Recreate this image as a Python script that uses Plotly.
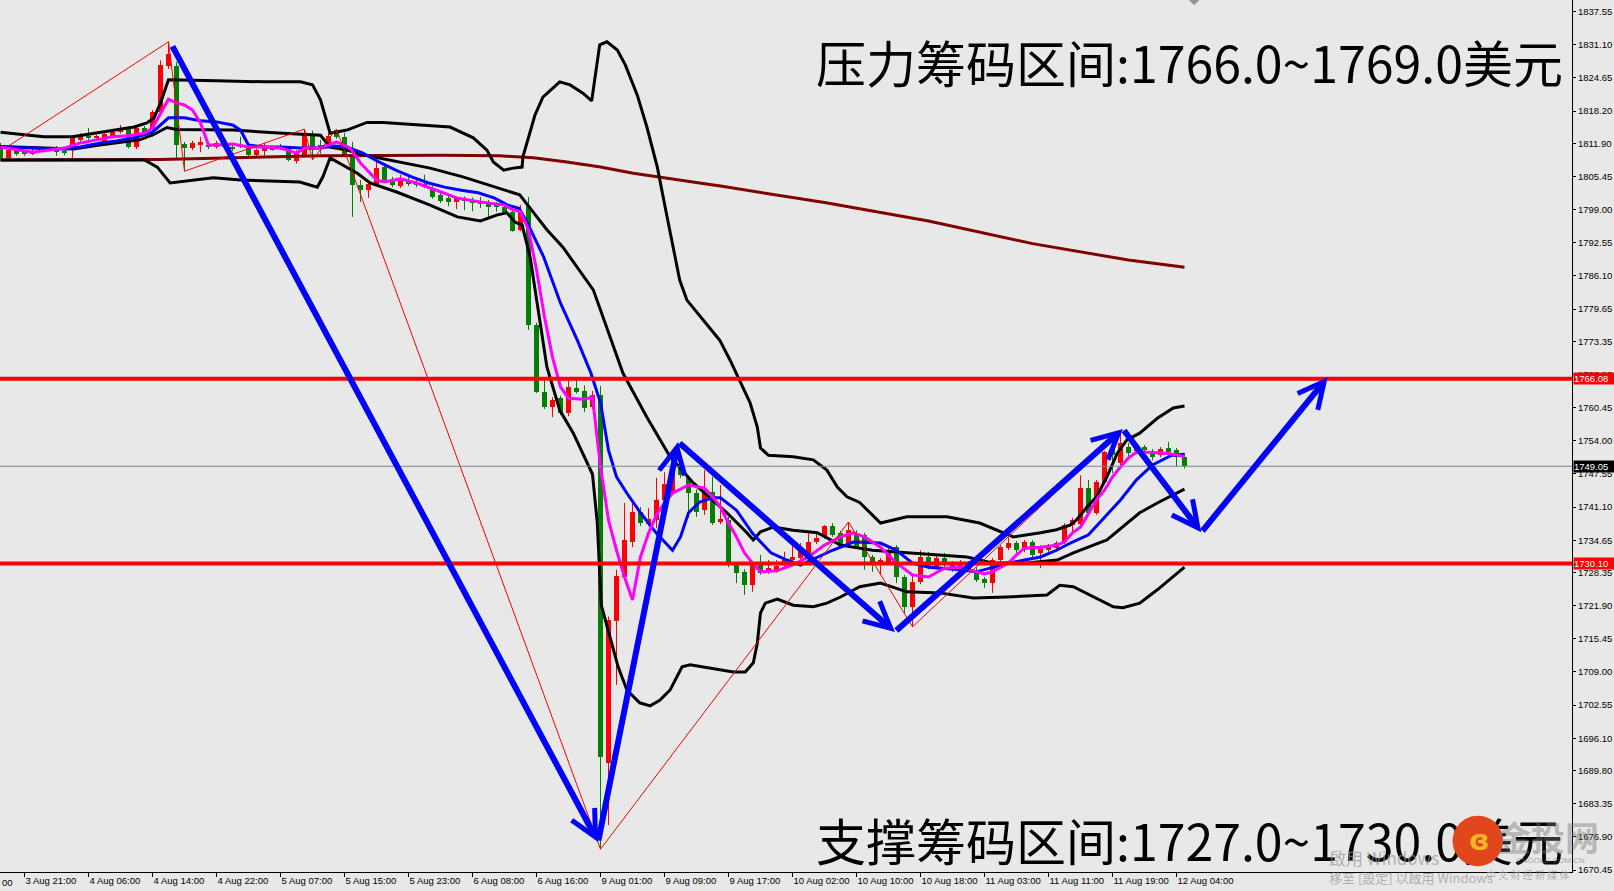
import plotly.graph_objects as go

# ---------------- candle data (H1 XAUUSD) ----------------
opens = [1811.6,1809.1,1810.4,1810.1,1809.8,1810.5,1810.8,1811.0,1810.5,1811.0,
         1812.6,1813.4,1813.0,1812.2,1813.1,1814.1,1814.7,1811.2,1814.9,1814.5,
         1818.0,1827.0,1827.0,1811.8,1811.0,1811.6,1811.6,1811.2,1811.6,1811.2,
         1811.6,1811.2,1809.7,1810.4,1811.0,1811.4,1811.0,1808.5,1809.7,1813.7,
         1811.6,1812.0,1814.5,1813.2,1809.3,1803.8,1802.8,1804.0,1807.3,1805.0,
         1803.6,1804.8,1804.2,1804.0,1803.2,1801.9,1801.3,1800.5,1801.2,1800.9,
         1800.5,1800.3,1799.9,1799.5,1798.6,1795.1,1799.7,1776.6,1763.5,1760.6,
         1762.3,1759.4,1764.3,1763.7,1760.6,1762.9,1691.3,1718.9,1727.5,1734.3,
         1740.2,1737.8,1738.6,1742.5,1744.0,1748.5,1746.8,1743.8,1740.5,1744.0,
         1738.2,1738.6,1729.8,1728.5,1725.9,1729.8,1728.5,1728.7,1729.8,1730.8,
         1731.2,1731.4,1734.3,1735.3,1737.4,1736.1,1734.1,1735.7,1735.7,1731.4,
         1729.8,1730.2,1733.3,1727.5,1721.7,1726.5,1731.4,1729.4,1731.2,1730.2,
         1729.2,1730.2,1728.5,1727.1,1726.3,1730.8,1733.1,1734.1,1732.7,1734.3,
         1732.2,1732.7,1733.1,1734.3,1737.6,1737.8,1744.8,1740.0,1746.0,1752.6,
         1749.7,1752.8,1752.0,1752.8,1751.6,1751.2,1752.6,1752.2,1750.9]
highs = [1812.0,1811.6,1810.8,1810.6,1811.0,1810.9,1811.2,1811.4,1810.9,1813.4,
         1813.9,1814.9,1813.6,1814.2,1814.4,1815.5,1815.0,1815.3,1815.3,1818.4,
         1828.1,1831.7,1827.8,1812.2,1812.4,1813.2,1812.2,1812.4,1812.0,1812.0,
         1813.2,1811.6,1810.9,1812.0,1811.4,1811.8,1811.4,1810.6,1814.7,1814.4,
         1812.6,1813.9,1814.7,1814.0,1812.2,1804.8,1804.8,1808.3,1807.6,1805.4,
         1805.8,1805.4,1804.8,1805.8,1803.6,1802.3,1801.8,1801.6,1801.6,1801.4,
         1801.5,1800.9,1800.5,1800.0,1799.1,1799.9,1801.5,1777.0,1766.2,1762.5,
         1762.8,1765.8,1766.2,1764.8,1763.7,1764.7,1719.8,1728.9,1741.9,1741.9,
         1741.1,1740.9,1746.8,1747.9,1749.5,1750.3,1747.3,1744.6,1748.3,1747.0,
         1745.4,1739.2,1730.2,1729.0,1730.6,1731.8,1730.8,1730.8,1732.4,1733.7,
         1734.1,1736.0,1736.0,1737.6,1738.0,1736.5,1738.2,1736.6,1736.1,1731.8,
         1731.2,1733.7,1733.7,1727.9,1727.9,1732.7,1732.4,1731.8,1732.2,1730.6,
         1730.8,1730.6,1729.4,1727.5,1731.2,1733.7,1735.2,1734.5,1734.7,1734.7,
         1733.7,1733.9,1734.5,1738.0,1739.0,1747.3,1746.4,1746.4,1752.0,1753.0,
         1755.8,1753.6,1752.8,1753.2,1752.4,1752.8,1753.8,1752.6,1751.6]
lows = [1808.9,1809.0,1809.5,1809.5,1809.6,1810.2,1810.4,1809.5,1809.6,1809.1,
        1812.3,1812.6,1812.6,1811.6,1812.9,1813.8,1810.9,1810.8,1813.5,1813.2,
        1817.6,1826.4,1809.1,1806.5,1810.6,1810.2,1810.8,1810.9,1811.0,1810.4,
        1811.0,1809.3,1809.4,1809.3,1810.5,1810.6,1808.4,1808.0,1809.4,1808.7,
        1809.9,1811.6,1812.8,1809.3,1797.6,1800.5,1801.3,1803.6,1804.4,1803.4,
        1803.2,1803.6,1803.4,1803.2,1801.1,1800.3,1799.7,1799.1,1798.9,1798.7,
        1799.3,1797.6,1798.6,1798.2,1794.7,1794.8,1775.6,1763.3,1760.2,1758.6,
        1759.0,1758.8,1763.2,1759.6,1760.2,1674.5,1679.2,1706.5,1727.2,1733.3,
        1737.4,1737.4,1737.0,1742.0,1743.5,1746.8,1739.0,1739.2,1739.6,1737.6,
        1737.8,1729.4,1726.3,1724.0,1724.6,1727.9,1728.1,1728.3,1729.4,1730.4,
        1730.9,1731.0,1733.9,1734.9,1735.3,1733.1,1733.7,1733.0,1728.9,1728.5,
        1727.9,1729.8,1726.3,1720.5,1717.8,1726.1,1729.0,1729.0,1729.4,1728.5,
        1728.8,1728.5,1726.5,1725.4,1724.4,1730.4,1732.7,1732.2,1732.3,1730.8,
        1729.2,1732.3,1732.7,1733.9,1735.7,1737.3,1739.6,1739.6,1745.6,1747.7,
        1749.3,1751.0,1751.4,1751.8,1750.2,1750.8,1751.4,1748.9,1748.6]
closes = [1809.1,1810.6,1809.8,1809.9,1810.4,1810.7,1810.6,1810.3,1810.0,1813.0,
          1813.4,1812.9,1813.3,1813.7,1814.1,1814.7,1811.2,1814.9,1813.9,1818.0,
          1827.2,1829.3,1811.6,1811.0,1812.0,1812.2,1811.2,1812.0,1811.3,1811.0,
          1811.2,1809.7,1810.6,1811.0,1810.8,1810.8,1808.7,1810.2,1813.5,1810.6,
          1810.8,1813.4,1813.2,1809.7,1803.8,1802.8,1804.0,1807.1,1804.8,1803.8,
          1805.0,1804.0,1803.9,1803.4,1801.5,1800.7,1800.5,1801.3,1800.7,1800.3,
          1800.1,1799.5,1799.5,1798.6,1794.9,1798.4,1776.6,1763.5,1760.6,1762.0,
          1759.4,1764.5,1763.5,1760.4,1762.9,1692.5,1719.1,1727.7,1734.7,1740.2,
          1738.0,1738.8,1742.5,1745.6,1748.5,1747.3,1743.8,1740.2,1743.8,1738.0,
          1738.8,1729.8,1728.3,1725.9,1730.0,1728.3,1729.2,1729.6,1730.8,1731.4,
          1732.7,1734.3,1735.1,1737.4,1735.7,1733.5,1736.6,1733.3,1731.4,1729.8,
          1730.8,1732.4,1727.5,1721.7,1726.5,1731.4,1729.4,1731.2,1729.8,1729.4,
          1730.2,1728.9,1726.9,1726.3,1730.8,1733.3,1734.1,1732.7,1734.3,1731.8,
          1733.3,1733.3,1734.1,1737.6,1738.6,1744.8,1740.0,1746.0,1751.8,1751.2,
          1753.6,1751.6,1752.4,1752.2,1750.9,1752.4,1751.8,1750.9,1749.05]
candle_idx = list(range(len(opens)))

# ---------------- indicator lines ----------------
ma_slow_x = [0, 20, 40, 55, 62.4, 66.6, 70.8, 75, 79.1, 83.3, 87.4, 90, 103, 116, 129, 141, 148]
ma_slow_y = [1808.7, 1808.8, 1809.5, 1809.6, 1809.5, 1809.1, 1808.3, 1807.3, 1806.1, 1805.2,
             1804.2, 1803.6, 1800.4, 1796.8, 1792.4, 1789.2, 1787.8]

ma_fast_x = [0, 4, 8, 10, 12, 14, 16, 18, 19, 20, 21, 22, 23, 24, 25, 26, 27, 29, 31, 33, 35, 37, 38, 40,
             41, 42, 43.7, 45, 47, 48, 50, 52, 55, 57, 60, 63, 64, 65, 66, 67, 68, 69, 70, 71, 72.8, 74,
             75, 76, 77, 78, 79, 80, 81, 82, 83, 84, 86, 88, 89, 90, 91, 92, 93, 94, 95, 97, 99, 101,
             103, 105, 106.6, 108, 110, 112, 114, 116, 118, 120, 122, 123, 124, 126, 127, 128, 130, 132,
             133, 134, 135, 136, 137, 138, 139, 140, 141, 142, 143.5, 145.6, 147, 148]
ma_fast_y = [1811.2, 1810.2, 1811.0, 1812.0, 1812.6, 1813.2, 1813.4, 1813.9, 1814.9, 1817.8, 1820.5,
             1819.8, 1819.4, 1818.4, 1815.9, 1811.6, 1811.6, 1811.8, 1811.2, 1811.2, 1811.0, 1810.0,
             1811.0, 1811.0, 1811.6, 1812.2, 1811.0, 1808.1, 1804.8, 1804.4, 1805.0, 1804.2, 1802.5,
             1801.3, 1800.5, 1799.9, 1799.0, 1798.6, 1795.1, 1787.3, 1778.1, 1770.3, 1764.5, 1762.3,
             1762.1, 1762.5, 1748.9, 1738.6, 1732.7, 1727.5, 1723.0, 1731.4, 1736.0, 1739.6, 1741.9,
             1743.8, 1745.4, 1744.8, 1743.1, 1741.1, 1738.0, 1735.3, 1732.2, 1730.2, 1728.5, 1728.7,
             1729.8, 1731.4, 1733.7, 1735.3, 1736.1, 1735.3, 1733.3, 1730.2, 1727.9, 1727.5, 1729.2,
             1729.4, 1728.5, 1728.1, 1728.5, 1730.2, 1731.8, 1733.1, 1733.3, 1733.7, 1734.3, 1736.1,
             1737.2, 1740.0, 1742.5, 1744.4, 1747.0, 1748.9, 1750.7, 1751.8, 1751.8, 1751.6, 1751.3,
             1750.9]

ma_mid_x = [0, 4, 8, 10, 12.5, 14.5, 16.7, 19, 20, 21, 23, 25, 27, 29, 30, 31, 33, 35, 37.5, 40, 41.7,
            43.3, 45.3, 47.3, 49.4, 51.4, 53.5, 55.5, 57.6, 59.7, 61.7, 63.4, 64.8, 65.8, 67.9, 70,
            72.1, 73.8, 75, 76, 77, 78.3, 80, 82, 84, 85, 86, 87.4, 89, 90, 92, 94, 96.3, 98.3, 100,
            102, 104, 106.6, 110, 112, 114, 116, 118, 120, 122, 124, 126, 128, 130, 132, 134, 136,
            138, 140, 142, 144, 146.4, 148]
ma_mid_y = [1811.2, 1811.0, 1810.8, 1811.2, 1812.0, 1812.4, 1813.0, 1814.1, 1815.5, 1816.9, 1816.9,
            1816.3, 1816.1, 1815.5, 1814.5, 1811.6, 1811.2, 1811.2, 1811.0, 1811.0, 1811.4, 1811.2,
            1810.0, 1808.3, 1806.7, 1805.4, 1804.2, 1803.4, 1802.8, 1802.3, 1801.3, 1799.9, 1799.3,
            1796.6, 1789.8, 1780.8, 1773.6, 1767.2, 1761.4, 1752.2, 1747.0, 1743.8, 1740.0, 1736.0,
            1732.7, 1735.3, 1740.0, 1742.1, 1742.9, 1742.9, 1740.5, 1736.0, 1732.2, 1730.8, 1729.8,
            1731.2, 1732.7, 1734.3, 1734.1, 1732.7, 1730.2, 1729.4, 1729.2, 1728.9, 1728.5, 1729.4,
            1730.2, 1730.8, 1731.4, 1732.7, 1734.3, 1735.7, 1739.2, 1742.5, 1746.4, 1749.3, 1751.2,
            1751.4]

bb_up_x = [0, 5.4, 9, 12.5, 16.7, 18.3, 19.2, 20, 21, 27, 33, 37.5, 39, 40, 40.6, 41.2, 43.3, 45.8,
           47.8, 56.2, 59.1, 60.8, 61.6, 62.9, 64.1, 65.2, 65.3, 66.8, 67.8, 69.9, 71.2, 72.8, 73.9,
           74.9, 75.8, 77.1, 78.1, 79.6, 80.8, 82.1, 83.4, 84.9, 85.8, 89.9, 91.2, 92.4, 93.7, 94.6,
           95, 96, 99.1, 101.6, 103.3, 104.6, 105.8, 107.4, 110, 113.3, 118.3, 122.4, 124.9, 126.6,
           130, 132, 133.7, 134.5, 135.8, 137, 138.3, 139.6, 140.8, 142.4, 144.6, 146.6, 148]
bb_up_y = [1814.1, 1813.2, 1813.2, 1814.1, 1815.1, 1815.9, 1816.9, 1819.8, 1824.3, 1824.1, 1823.9,
           1823.9, 1823.3, 1820.4, 1817.1, 1813.9, 1814.5, 1816.0, 1816.0, 1815.1, 1813.0, 1810.6,
           1808.3, 1806.7, 1807.1, 1807.3, 1809.3, 1817.4, 1820.9, 1823.9, 1823.3, 1821.7, 1820.2,
           1831.1, 1831.7, 1830.1, 1827.2, 1821.3, 1815.1, 1807.3, 1797.0, 1785.3, 1781.4, 1773.6,
           1769.7, 1765.8, 1761.4, 1756.7, 1752.6, 1751.2, 1750.9, 1750.3, 1748.3, 1745.0, 1743.1,
           1742.0, 1738.0, 1739.2, 1739.2, 1738.0, 1736.3, 1735.3, 1736.1, 1736.7, 1737.6, 1738.6,
           1741.1, 1743.1, 1747.0, 1751.6, 1754.2, 1755.5, 1758.4, 1760.4, 1760.8]

bb_mid_x = [0, 9.1, 12.4, 17.4, 19.1, 20.8, 22, 29.1, 35.3, 40, 41.2, 43.3, 45.3, 49.6, 53.7, 57.8,
            62.1, 64.9, 66.2, 68.3, 70.3, 74.1, 76.2, 77.8, 80.8, 83.7, 86.6, 90.8, 93.3, 94.1, 95,
            96.6, 99.1, 102.1, 105, 109, 113.3, 117.4, 120.8, 124.1, 128.3, 132.1, 134.1, 138.3,
            142.4, 144.6, 148]
bb_mid_y = [1811.3, 1810.8, 1811.6, 1812.6, 1813.6, 1815.0, 1814.6, 1814.5, 1813.9, 1813.5, 1811.2,
            1810.6, 1809.7, 1808.3, 1807.1, 1805.4, 1803.2, 1801.9, 1799.3, 1795.1, 1791.7, 1783.4,
            1774.2, 1767.2, 1758.6, 1750.9, 1745.8, 1740.0, 1736.1, 1734.7, 1736.3, 1737.2, 1736.6,
            1736.1, 1733.7, 1732.7, 1732.2, 1731.8, 1731.4, 1730.2, 1730.2, 1730.8, 1732.2, 1734.7,
            1740.0, 1741.9, 1744.6]

bb_low_x = [0, 18, 19.6, 21.2, 26.6, 30, 37.4, 39.6, 40.3, 41.2, 44.6, 46.2, 49.6, 53.7, 57.1, 60,
            62.1, 63.3, 64.3, 65.2, 66.2, 68.3, 69.9, 71.6, 74, 74.6, 75.1, 76.2, 77.2, 78.3, 79.9,
            81.2, 82.4, 83.7, 84.6, 85.2, 86.2, 88.7, 91.6, 93.1, 94.1, 94.6, 95, 95.6, 97.1, 99.1,
            101.6, 103.3, 105, 107.4, 110, 113.3, 117.4, 121.6, 125.8, 130.8, 132.4, 134.1, 136.6,
            139.1, 140.3, 142.4, 144.6, 146.6, 148]
bb_low_y = [1808.7, 1808.7, 1807.3, 1804.2, 1805.2, 1804.8, 1804.4, 1803.4, 1805.4, 1809.1, 1806.1,
            1804.2, 1802.4, 1799.9, 1797.6, 1796.8, 1798.0, 1798.4, 1796.6, 1796.0, 1789.8, 1768.4,
            1760.0, 1755.5, 1747.5, 1738.0, 1722.0, 1715.8, 1710.0, 1705.5, 1703.0, 1702.4, 1703.5,
            1705.5, 1708.4, 1710.0, 1710.4, 1709.8, 1709.0, 1709.0, 1710.8, 1714.6, 1720.5, 1722.4,
            1723.2, 1722.0, 1721.7, 1722.4, 1723.6, 1725.6, 1726.3, 1724.6, 1724.4, 1723.4, 1723.6,
            1724.0, 1725.9, 1725.6, 1723.6, 1721.7, 1721.5, 1722.4, 1725.0, 1727.5, 1729.4]

zigzag_x = [1, 21, 23, 38, 39, 42, 75, 106, 114, 140]
zigzag_y = [1811.4, 1831.7, 1806.5, 1814.7, 1808.7, 1814.7, 1674.5, 1738.2, 1717.8, 1755.8]

arrow_x = [21.4, 74.7, 84.7, 111.8, 140.3, 150.1, 165.9]
arrow_y = [1831.1, 1675.9, 1753.8, 1716.8, 1756.3, 1736.2, 1766.4]

resistance_level = 1766.08
support_level = 1730.10
bid_level = 1749.05

xtick_idx = [3, 11, 19, 27, 35, 43, 51, 59, 67, 75, 83, 91, 99, 107, 115, 123, 131, 139, 147]
xtick_text = ["3 Aug 21:00", "4 Aug 06:00", "4 Aug 14:00", "4 Aug 22:00", "5 Aug 07:00",
              "5 Aug 15:00", "5 Aug 23:00", "6 Aug 08:00", "6 Aug 16:00", "9 Aug 01:00",
              "9 Aug 09:00", "9 Aug 17:00", "10 Aug 02:00", "10 Aug 10:00", "10 Aug 18:00",
              "11 Aug 03:00", "11 Aug 11:00", "11 Aug 19:00", "12 Aug 04:00"]
ytick_text = ["1837.55", "1831.10", "1824.65", "1818.20", "1811.90", "1805.45", "1799.00",
              "1792.55", "1786.10", "1779.65", "1773.35", "1766.90", "1760.45", "1754.00",
              "1747.55", "1741.10", "1734.65", "1728.35", "1721.90", "1715.45", "1709.00",
              "1702.55", "1696.10", "1689.80", "1683.35", "1676.90", "1670.45"]
ytick_vals = [float(t) for t in ytick_text]

BULL = "#ff0000"
BEAR = "#008000"
BG = "#e8e8e8"
TICKFONT = dict(size=9.5, family="Liberation Sans", color="#000000")

fig = go.Figure()

# candle bodies
body = []
for o, c in zip(opens, closes):
    d = c - o
    if abs(d) < 0.25:
        d = 0.25 if d >= 0 else -0.25
    body.append(d)
colors = [BULL if c >= o else BEAR for o, c in zip(opens, closes)]

# wicks
for col in (BULL, BEAR):
    wx, wy = [], []
    for i, o, h, l, c in zip(candle_idx, opens, highs, lows, closes):
        if (BULL if c >= o else BEAR) == col:
            wx += [i, i, None]
            wy += [l, h, None]
    fig.add_trace(go.Scatter(x=wx, y=wy, mode="lines", line=dict(color=col, width=1),
                             hoverinfo="skip", showlegend=False))

fig.add_trace(go.Bar(x=candle_idx, y=body, base=opens, width=0.62,
                     marker=dict(color=colors, line=dict(width=0)),
                     hoverinfo="skip", showlegend=False))

def line(x, y, color, width):
    fig.add_trace(go.Scatter(x=x, y=y, mode="lines", line=dict(color=color, width=width),
                             hoverinfo="skip", showlegend=False))

line(ma_slow_x, ma_slow_y, "#800000", 3)
line(bb_up_x, bb_up_y, "#000000", 3)
line(bb_mid_x, bb_mid_y, "#000000", 3)
line(bb_low_x, bb_low_y, "#000000", 3)
line(ma_mid_x, ma_mid_y, "#0000ff", 3)
line(ma_fast_x, ma_fast_y, "#ff00ff", 3)
line(zigzag_x, zigzag_y, "#ff0000", 1)

# chart-shift marker at top
fig.add_trace(go.Scatter(x=[149.2], y=[1840.2], mode="markers",
                         marker=dict(symbol="diamond", size=11, color="#8f93a0"),
                         hoverinfo="skip", showlegend=False))

shapes = [
    dict(type="line", xref="paper", x0=0, x1=1, yref="y", y0=resistance_level, y1=resistance_level,
         line=dict(color="#ff0000", width=4), layer="above"),
    dict(type="line", xref="paper", x0=0, x1=1, yref="y", y0=support_level, y1=support_level,
         line=dict(color="#ff0000", width=4), layer="above"),
    dict(type="line", xref="paper", x0=0, x1=1, yref="y", y0=bid_level, y1=bid_level,
         line=dict(color="#778899", width=1), layer="above"),
]

annotations = []
# blue trend arrows
for k in range(1, len(arrow_x)):
    annotations.append(dict(x=arrow_x[k], y=arrow_y[k], xref="x", yref="y",
                            ax=arrow_x[k - 1], ay=arrow_y[k - 1], axref="x", ayref="y",
                            showarrow=True, arrowhead=5, arrowsize=0.85, arrowwidth=6,
                            arrowcolor="#0000ff", standoff=0, text=""))

# price boxes on the axis
for val, bg in ((resistance_level, "#ff0000"), (support_level, "#ff0000"), (bid_level, "#000000")):
    annotations.append(dict(x=1, xref="paper", xanchor="left", xshift=1, y=val, yref="y",
                            yanchor="middle", text=f"{val:.2f}", showarrow=False,
                            bgcolor=bg, font=dict(color="#ffffff", size=9.5, family="Liberation Sans"),
                            width=41, height=11, align="left", borderpad=0))

# left partial time label
annotations.append(dict(x=0, xref="paper", xanchor="left", y=-0.0115, yref="paper", yanchor="middle",
                        text="00", showarrow=False, font=TICKFONT))

# big Chinese texts
annotations.append(dict(x=1565 / 1572, xref="paper", xanchor="right", y=1 - 61 / 872, yref="paper",
                        yanchor="middle", text="压力筹码区间:1766.0~1769.0美元", showarrow=False,
                        font=dict(size=50, color="#000000", family="Noto Sans CJK SC")))
annotations.append(dict(x=1565 / 1572, xref="paper", xanchor="right", y=1 - 839 / 872, yref="paper",
                        yanchor="middle", text="支撑筹码区间:1727.0~1730.0美元", showarrow=False,
                        font=dict(size=50, color="#000000", family="Noto Sans CJK SC")))

# watermark bits (drawn over the support text like in the screenshot)
annotations.append(dict(x=1478 / 1572, xref="paper", xanchor="center", y=1 - 840 / 872, yref="paper",
                        yanchor="middle", yshift=5, text="●", showarrow=False,
                        font=dict(size=66, color="#e2461c", family="DejaVu Sans")))
annotations.append(dict(x=1479 / 1572, xref="paper", xanchor="center", y=1 - 840 / 872, yref="paper",
                        yanchor="middle", text="<b>ɞ</b>", showarrow=False,
                        font=dict(size=28, color="#f7b52a", family="DejaVu Sans")))
annotations.append(dict(x=1548 / 1572, xref="paper", xanchor="center", y=1 - 836 / 872, yref="paper",
                        yanchor="middle", text="<b>金投网</b>", showarrow=False,
                        font=dict(size=34, color="rgba(120,120,120,0.45)", family="Noto Sans CJK SC")))
annotations.append(dict(x=1550 / 1572, xref="paper", xanchor="center", y=1 - 860 / 872, yref="paper",
                        yanchor="middle", text="CNGOLD.COM.CN", showarrow=False,
                        font=dict(size=8, color="rgba(120,120,120,0.6)", family="Liberation Sans")))
annotations.append(dict(x=1327 / 1572, xref="paper", xanchor="left", y=1 - 857 / 872, yref="paper",
                        yanchor="middle", text="啟用 Windows", showarrow=False,
                        font=dict(size=17, color="rgba(150,150,150,0.7)", family="Noto Sans CJK TC")))
annotations.append(dict(x=1327 / 1572, xref="paper", xanchor="left", y=1 - 877 / 872, yref="paper",
                        yanchor="middle", text="移至 [設定] 以啟用 Windows", showarrow=False,
                        font=dict(size=13, color="rgba(150,150,150,0.7)", family="Noto Sans CJK TC")))
annotations.append(dict(x=1527 / 1572, xref="paper", xanchor="center", y=1 - 875 / 872, yref="paper",
                        yanchor="middle", text="中 文 财 经 新 媒 体", showarrow=False,
                        font=dict(size=10, color="rgba(150,150,150,0.7)", family="Noto Sans CJK SC")))

fig.update_layout(
    width=1614, height=891,
    margin=dict(l=0, r=42, t=0, b=19, pad=0),
    paper_bgcolor=BG, plot_bgcolor=BG,
    font=dict(family="Liberation Sans", size=10, color="#000000"),
    showlegend=False, bargap=0,
    shapes=shapes, annotations=annotations,
    xaxis=dict(range=[-0.0625, 196.4375], tickmode="array", tickvals=xtick_idx, ticktext=xtick_text,
               ticks="outside", ticklen=4, tickcolor="#000000", showline=True, linecolor="#000000",
               linewidth=1, showgrid=False, zeroline=False, ticklabelposition="outside right",
               tickangle=0, tickfont=TICKFONT, fixedrange=True, automargin=False),
    yaxis=dict(range=[1670.06, 1839.83], side="right", tickmode="array", tickvals=ytick_vals,
               ticktext=ytick_text, ticks="outside", ticklen=3, tickcolor="#000000", showline=True,
               linecolor="#000000", linewidth=1, showgrid=False, zeroline=False,
               tickfont=TICKFONT, fixedrange=True, automargin=False),
)

fig.write_html("out.html", config={"displayModeBar": False},
               post_script="document.body.style.margin='0';document.body.style.overflow='hidden';")
